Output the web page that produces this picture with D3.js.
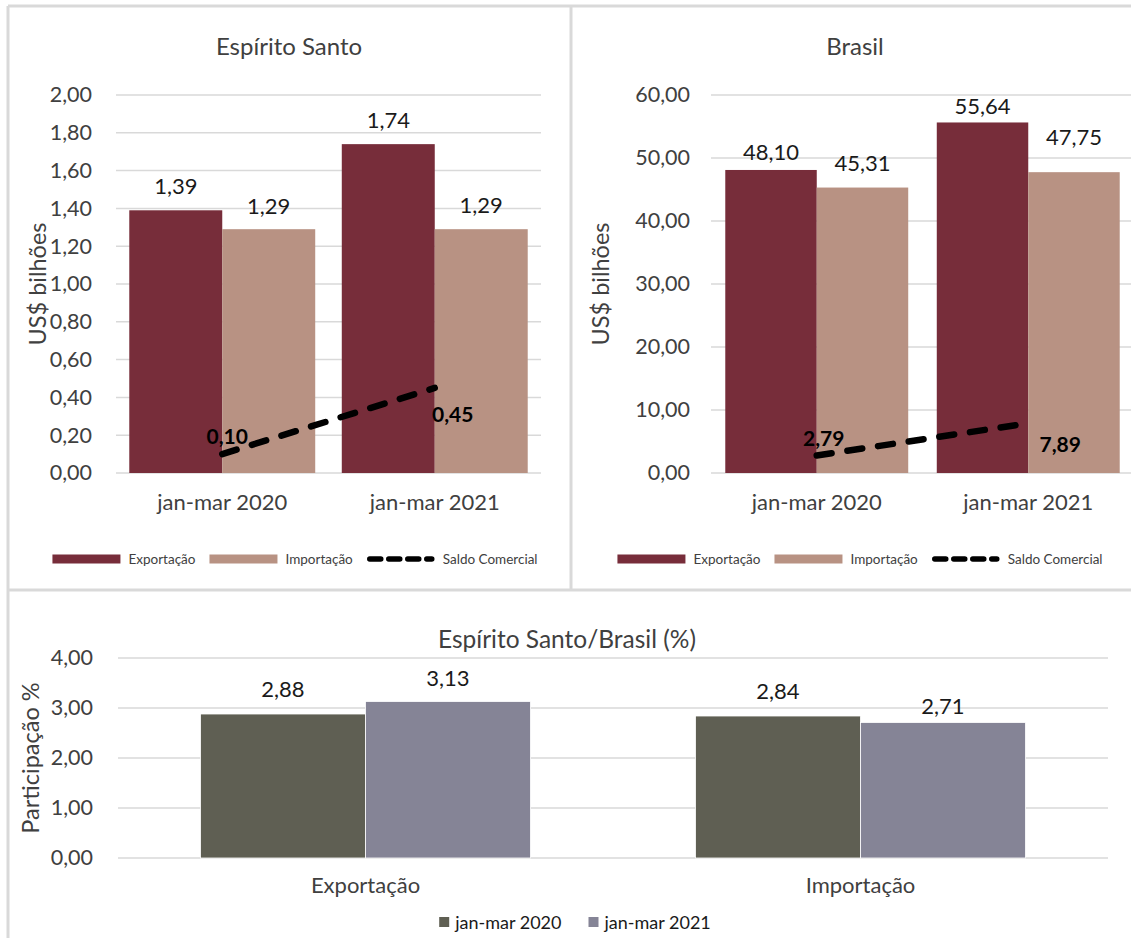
<!DOCTYPE html>
<html><head><meta charset="utf-8">
<script src="https://cdn.jsdelivr.net/npm/d3@7"></script>
<style>
html,body{margin:0;padding:0;background:#fff;overflow:hidden;}
svg{display:block;font-family:Lato,"Open Sans",sans-serif;}
</style></head>
<body>
<svg id="chart" width="1131" height="938"></svg>
<script>
// ---------- DATA ----------
const categories = ["jan-mar 2020", "jan-mar 2021"];
const seriesNames = ["Exportação", "Importação", "Saldo Comercial"];
const esExport = [1.39, 1.74];
const esImport = [1.29, 1.29];
const esSaldo  = [0.10, 0.45];
const brExport = [48.10, 55.64];
const brImport = [45.31, 47.75];
const brSaldo  = [2.79, 7.89];
const esTicks = [0, 0.2, 0.4, 0.6, 0.8, 1.0, 1.2, 1.4, 1.6, 1.8, 2.0];
const brTicks = [0, 10, 20, 30, 40, 50, 60];
const shareCategories = ["Exportação", "Importação"];
const shareYears = ["jan-mar 2020", "jan-mar 2021"];
const share2020 = [2.88, 2.84];
const share2021 = [3.13, 2.71];
const shareTicks = [0, 1, 2, 3, 4];

// ---------- STYLE ----------
const COL_EXP = "#772D3A", COL_IMP = "#B89283";
const COL_20 = "#5F5F53", COL_21 = "#858496";
const GRID = "#D9D9D9", TXT = "#404040";
const loc = d3.formatLocale({decimal: ",", thousands: ".", grouping: [3], currency: ["", ""]});
const fmt = loc.format(".2f");

const svg = d3.select("#chart");

// panel frames
const frames = svg.append("g");
frames.append("line").attr("x1", 8).attr("x2", 1131).attr("y1", 6).attr("y2", 6);
frames.append("line").attr("x1", 8).attr("x2", 8).attr("y1", 6).attr("y2", 938);
frames.append("line").attr("x1", 571).attr("x2", 571).attr("y1", 6).attr("y2", 590);
frames.append("line").attr("x1", 8).attr("x2", 1131).attr("y1", 590).attr("y2", 590);
frames.selectAll("line").attr("stroke", GRID).attr("stroke-width", 3);

function drawTop(o) {
  const g = svg.append("g");
  const x = d3.scaleBand().domain(categories).range(o.xr).paddingInner(o.pad).paddingOuter(o.pad / 2);
  const xs = d3.scaleBand().domain([0, 1]).range([0, x.bandwidth()]);
  const y = d3.scaleLinear().domain([0, o.max]).range([473, 95]);

  // grid
  g.append("g").selectAll("line").data(o.ticks).join("line")
    .attr("x1", o.xr[0]).attr("x2", o.gridEnd)
    .attr("y1", d => y(d)).attr("y2", d => y(d))
    .attr("stroke", GRID).attr("stroke-width", 1.5);

  // y axis
  const ya = g.append("g").attr("transform", `translate(${o.xr[0]},0)`)
    .call(d3.axisLeft(y).tickValues(o.ticks).tickFormat(fmt).tickSize(0).tickPadding(o.tickPad));
  ya.select(".domain").remove();
  ya.selectAll("text").attr("font-size", 21.5).attr("fill", TXT).attr("font-family", "Lato");

  // x axis
  const xa = g.append("g").attr("transform", `translate(0,${y(0)})`)
    .call(d3.axisBottom(x).tickSize(0).tickPadding(21));
  xa.select(".domain").remove();
  xa.selectAll("text").attr("font-size", 22).attr("fill", TXT).attr("font-family", "Lato");

  // bars
  const series = [{v: o.exp, c: COL_EXP}, {v: o.imp, c: COL_IMP}];
  series.forEach((s, si) => {
    g.append("g").selectAll("rect").data(s.v).join("rect")
      .attr("x", (d, i) => x(categories[i]) + xs(si))
      .attr("width", xs.bandwidth())
      .attr("y", d => y(d)).attr("height", d => y(0) - y(d))
      .attr("fill", s.c);
    g.append("g").selectAll("text").data(s.v).join("text")
      .attr("x", (d, i) => x(categories[i]) + xs(si) + xs.bandwidth() / 2)
      .attr("y", (d, i) => y(d) - o.labelOff[si][i])
      .attr("text-anchor", "middle").attr("dominant-baseline", "central")
      .attr("font-size", 22).attr("fill", "#1a1a1a").text(d => fmt(d));
  });

  // saldo line
  const cx = (d, i) => x(categories[i]) + x.bandwidth() / 2;
  g.append("path").datum(o.saldo)
    .attr("d", d3.line().x(cx).y(d => y(d)))
    .attr("fill", "none").attr("stroke", "#000").attr("stroke-width", 6.5)
    .attr("stroke-linecap", "round").attr("stroke-dasharray", "15,16");
  g.append("g").selectAll("text").data(o.saldo).join("text")
    .attr("x", (d, i) => cx(d, i) + o.saldoOff[i][0])
    .attr("y", (d, i) => y(d) + o.saldoOff[i][1])
    .attr("text-anchor", "middle").attr("dominant-baseline", "central")
    .attr("font-size", 21).attr("font-weight", "bold").attr("fill", "#000").text(d => fmt(d));

  // title
  g.append("text").attr("x", o.titleX).attr("y", 45).attr("text-anchor", "middle")
    .attr("dominant-baseline", "central").attr("font-size", 24).attr("fill", TXT).text(o.title);
  // y title
  g.append("text").attr("transform", `translate(${o.yTitleX},284) rotate(-90)`)
    .attr("text-anchor", "middle").attr("dominant-baseline", "central")
    .attr("font-size", 23.5).attr("fill", TXT).text("US$ bilhões");

  // legend
  const ly = 559;
  const parts = [
    {type: "rect", c: COL_EXP, label: seriesNames[0]},
    {type: "rect", c: COL_IMP, label: seriesNames[1]},
    {type: "dash", c: "#000", label: seriesNames[2]}
  ];
  const grp = g.append("g");
  let cur = 0;
  parts.forEach((p, i) => {
    if (p.type === "rect") {
      grp.append("rect").attr("x", cur).attr("y", ly - 4.5).attr("width", 68).attr("height", 9).attr("fill", p.c);
    } else {
      grp.append("line").attr("x1", cur + 3).attr("x2", cur + 65).attr("y1", ly).attr("y2", ly)
        .attr("stroke", "#000").attr("stroke-width", 5.5).attr("stroke-linecap", "round")
        .attr("stroke-dasharray", "11,8");
    }
    cur += 76;
    const t = grp.append("text").attr("x", cur).attr("y", ly).attr("dominant-baseline", "central")
      .attr("font-size", 13.5).attr("fill", TXT).text(p.label);
    cur += t.node().getComputedTextLength() + 14;
  });
  const totalW = cur - 14;
  grp.attr("transform", `translate(${o.legendCx - totalW / 2},0)`);
}

drawTop({
  xr: [116, 541], gridEnd: 541, pad: 0.125, max: 2, ticks: esTicks, tickPad: 24,
  exp: esExport, imp: esImport, saldo: esSaldo,
  labelOff: [[25, 25], [24, 25]], saldoOff: [[5, -19], [18, 26]],
  title: "Espírito Santo", titleX: 289, yTitleX: 37, legendCx: 295
});
drawTop({
  xr: [711, 1134], gridEnd: 1131, pad: 0.135, max: 60, ticks: brTicks, tickPad: 21,
  exp: brExport, imp: brImport, saldo: brSaldo,
  labelOff: [[18, 16.5], [25.5, 36]], saldoOff: [[7, -18], [32, 20]],
  title: "Brasil", titleX: 855, yTitleX: 600, legendCx: 860
});

// ---------- bottom chart ----------
(function () {
  const g = svg.append("g");
  const xr = [118, 1108];
  const x = d3.scaleBand().domain(shareCategories).range(xr).paddingInner(1 / 3).paddingOuter(1 / 6);
  const xs = d3.scaleBand().domain([0, 1]).range([0, x.bandwidth()]);
  const y = d3.scaleLinear().domain([0, 4]).range([858, 658]);

  g.append("g").selectAll("line").data(shareTicks).join("line")
    .attr("x1", xr[0]).attr("x2", xr[1]).attr("y1", d => y(d)).attr("y2", d => y(d))
    .attr("stroke", GRID).attr("stroke-width", 1.5);

  const ya = g.append("g").attr("transform", `translate(${xr[0]},0)`)
    .call(d3.axisLeft(y).tickValues(shareTicks).tickFormat(fmt).tickSize(0).tickPadding(25));
  ya.select(".domain").remove();
  ya.selectAll("text").attr("font-size", 21.5).attr("fill", TXT).attr("font-family", "Lato");

  const xa = g.append("g").attr("transform", `translate(0,${y(0)})`)
    .call(d3.axisBottom(x).tickSize(0).tickPadding(19));
  xa.select(".domain").remove();
  xa.selectAll("text").attr("font-size", 22).attr("fill", TXT).attr("font-family", "Lato");

  const series = [{v: share2020, c: COL_20}, {v: share2021, c: COL_21}];
  const off = [[26, 26], [24.5, 17.5]];
  series.forEach((s, si) => {
    g.append("g").selectAll("rect").data(s.v).join("rect")
      .attr("x", (d, i) => x(shareCategories[i]) + xs(si))
      .attr("width", xs.bandwidth())
      .attr("y", d => y(d)).attr("height", d => y(0) - y(d))
      .attr("fill", s.c).attr("stroke", "#fff").attr("stroke-width", 0.8);
    g.append("g").selectAll("text").data(s.v).join("text")
      .attr("x", (d, i) => x(shareCategories[i]) + xs(si) + xs.bandwidth() / 2)
      .attr("y", (d, i) => y(d) - off[si][i])
      .attr("text-anchor", "middle").attr("dominant-baseline", "central")
      .attr("font-size", 22).attr("fill", "#1a1a1a").text(d => fmt(d));
  });

  g.append("text").attr("x", 567).attr("y", 638).attr("text-anchor", "middle")
    .attr("dominant-baseline", "central").attr("font-size", 24.5).attr("fill", TXT)
    .text("Espírito Santo/Brasil (%)");
  g.append("text").attr("transform", "translate(30,758) rotate(-90)")
    .attr("text-anchor", "middle").attr("dominant-baseline", "central")
    .attr("font-size", 23.5).attr("fill", TXT).text("Participação %");

  // legend
  const lg = g.append("g");
  let cur = 0;
  const ly = 922;
  [{c: COL_20, l: shareYears[0]}, {c: COL_21, l: shareYears[1]}].forEach(p => {
    lg.append("rect").attr("x", cur).attr("y", ly - 5).attr("width", 10).attr("height", 10).attr("fill", p.c);
    cur += 16;
    const t = lg.append("text").attr("x", cur).attr("y", ly).attr("dominant-baseline", "central")
      .attr("font-size", 18).attr("fill", "#1a1a1a").text(p.l);
    cur += t.node().getComputedTextLength() + 27;
  });
  const w = cur - 27;
  lg.attr("transform", `translate(${575 - w / 2},0)`);
})();
</script>
</body></html>
